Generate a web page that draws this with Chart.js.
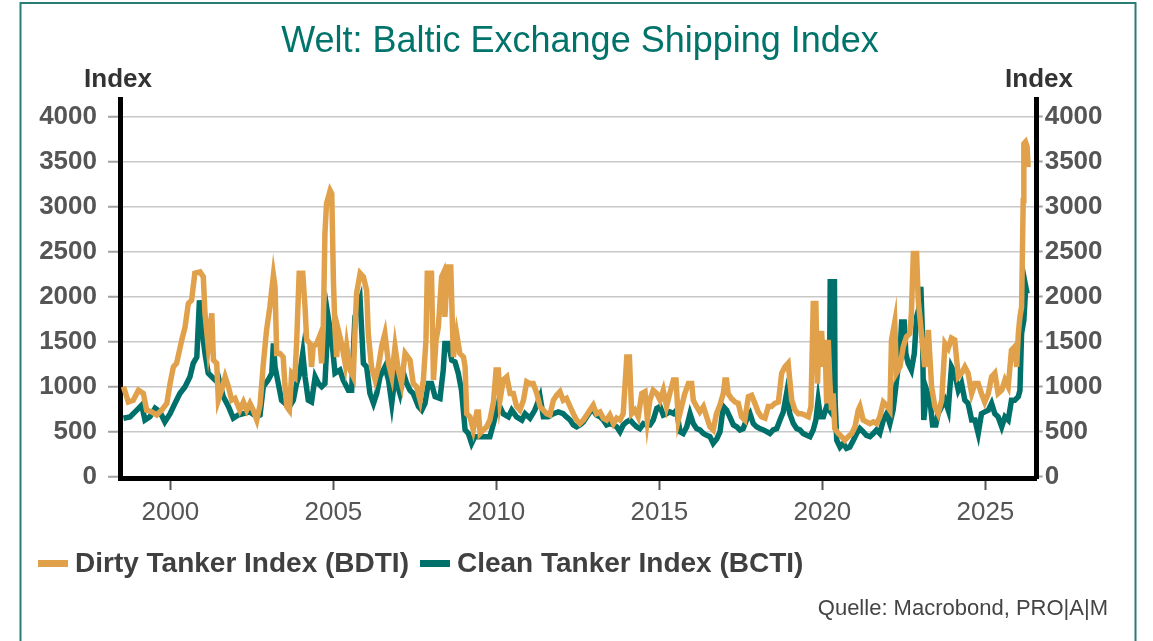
<!DOCTYPE html>
<html>
<head>
<meta charset="utf-8">
<script src="https://cdn.jsdelivr.net/npm/chart.js@4.4.1/dist/chart.umd.min.js"></script>
<style>
html,body{margin:0;padding:0;background:#fff;}
#wrap{position:relative;width:1153px;height:641px;}
</style>
</head>
<body>
<div id="wrap"><canvas id="c" width="1153" height="641"></canvas></div>
<script>
const chartTitle = 'Welt: Baltic Exchange Shipping Index';
const axisTitle = 'Index';
const sourceText = 'Quelle: Macrobond, PRO|A|M';
const seriesNames = ['Dirty Tanker Index (BDTI)', 'Clean Tanker Index (BCTI)'];
const seriesColors = ['#E1A14B', '#00716A'];
const yTickValues = [0, 500, 1000, 1500, 2000, 2500, 3000, 3500, 4000];
const xTickValues = [2000, 2005, 2010, 2015, 2020, 2025];
const xTickLabels = ['2000', '2005', '2010', '2015', '2020', '2025'];

const dirtyDates = [
1998.56,1998.71,1998.86,1999.02,1999.17,1999.27,1999.43,1999.58,1999.73,1999.89,
1999.99,2000.09,2000.19,2000.35,2000.45,2000.55,2000.65,2000.75,2000.91,2001.01,
2001.06,2001.16,2001.27,2001.32,2001.42,2001.47,2001.57,2001.68,2001.78,2001.88,
2001.98,2002.13,2002.24,2002.34,2002.44,2002.54,2002.65,2002.75,2002.85,2002.95,
2003.05,2003.16,2003.21,2003.26,2003.36,2003.46,2003.51,2003.57,2003.65,2003.72,
2003.82,2003.87,2003.95,2004.06,2004.13,2004.18,2004.28,2004.33,2004.38,2004.49,
2004.57,2004.64,2004.69,2004.74,2004.79,2004.90,2004.95,2005.00,2005.05,2005.10,
2005.15,2005.25,2005.36,2005.41,2005.51,2005.61,2005.66,2005.71,2005.82,2005.92,
2006.02,2006.07,2006.17,2006.28,2006.38,2006.48,2006.58,2006.69,2006.79,2006.89,
2006.99,2007.09,2007.20,2007.35,2007.45,2007.55,2007.66,2007.76,2007.84,2007.88,
2008.01,2008.07,2008.15,2008.22,2008.32,2008.37,2008.42,2008.50,2008.60,2008.68,
2008.78,2008.88,2008.99,2009.04,2009.09,2009.19,2009.29,2009.40,2009.45,2009.50,
2009.60,2009.70,2009.80,2009.91,2009.99,2010.06,2010.11,2010.21,2010.32,2010.42,
2010.52,2010.62,2010.72,2010.83,2010.93,2011.03,2011.13,2011.24,2011.34,2011.44,
2011.54,2011.64,2011.75,2011.85,2011.95,2012.05,2012.15,2012.26,2012.36,2012.46,
2012.56,2012.67,2012.77,2012.87,2012.97,2013.07,2013.18,2013.28,2013.38,2013.48,
2013.59,2013.69,2013.79,2013.89,2014.00,2014.08,2014.15,2014.25,2014.35,2014.46,
2014.56,2014.63,2014.71,2014.81,2014.92,2015.02,2015.12,2015.22,2015.32,2015.43,
2015.51,2015.58,2015.68,2015.78,2015.89,2015.99,2016.04,2016.14,2016.24,2016.35,
2016.45,2016.55,2016.65,2016.75,2016.86,2016.96,2017.01,2017.06,2017.11,2017.21,
2017.32,2017.42,2017.52,2017.62,2017.73,2017.83,2017.93,2018.03,2018.13,2018.24,
2018.34,2018.44,2018.54,2018.65,2018.75,2018.85,2018.95,2019.06,2019.16,2019.26,
2019.36,2019.46,2019.57,2019.65,2019.72,2019.80,2019.85,2019.90,2019.98,2020.03,
2020.08,2020.13,2020.18,2020.23,2020.28,2020.33,2020.38,2020.49,2020.59,2020.69,
2020.79,2020.90,2021.00,2021.10,2021.15,2021.25,2021.35,2021.46,2021.56,2021.66,
2021.76,2021.87,2021.97,2022.07,2022.12,2022.22,2022.27,2022.38,2022.48,2022.58,
2022.68,2022.73,2022.79,2022.89,2022.94,2023.04,2023.14,2023.25,2023.35,2023.45,
2023.55,2023.66,2023.76,2023.86,2023.96,2024.06,2024.17,2024.27,2024.37,2024.47,
2024.58,2024.68,2024.78,2024.88,2024.98,2025.09,2025.19,2025.29,2025.39,2025.50,
2025.60,2025.70,2025.80,2025.90,2025.96,2026.01,2026.06,2026.11,2026.16,2026.18,
2026.23,2026.28,2026.31
];
const dirtyValues = [
1000,830,850,960,925,740,720,685,740,815,
1035,1220,1260,1520,1665,1925,1960,2260,2275,2220,
1815,1445,1815,1295,1260,850,960,1110,1000,850,
870,740,830,740,815,740,630,800,1250,1630,
1885,2240,2110,1370,1370,1330,1035,780,740,1150,
1110,1480,2260,2260,1885,1520,1480,1220,1445,1480,
1555,1260,1665,2700,3035,3180,3145,2185,1630,1330,
1630,1480,1260,1445,1185,1110,1590,2035,2260,2220,
2070,1590,1220,1075,1220,1445,1590,1260,1110,1445,
1185,1035,1370,1295,1035,1000,850,1075,1520,2260,
2260,1075,1520,1665,2220,2260,1775,2330,2330,1330,
1590,1370,1330,1220,700,665,520,720,720,480,
520,555,630,830,1185,1185,850,1075,1110,925,
925,780,740,850,1055,1035,1035,925,780,740,
700,685,850,905,945,850,870,780,700,630,
590,630,685,740,795,700,720,650,630,685,
590,650,630,700,1330,1330,700,740,665,925,
945,630,850,960,925,850,960,780,925,1075,
1075,630,780,925,1035,1035,850,780,720,780,
665,555,520,700,800,925,1075,1075,925,870,
830,815,665,630,890,905,815,720,665,650,
780,780,815,830,1150,1220,1260,850,740,700,
700,685,665,780,1925,1925,1035,1590,1590,1220,
1520,815,1520,1035,740,925,535,480,445,405,
445,480,555,740,780,630,610,590,610,590,
665,830,795,740,1520,1720,1150,1220,1445,1555,
1590,1815,2480,2480,1960,1590,1220,1630,1000,780,
700,850,1480,1425,1540,1520,1110,1150,1220,1150,
925,1035,1035,925,830,925,1110,1150,925,960,
1075,1000,1405,1445,1220,1590,1775,1885,3070,3700,
3720,3665,3440
];

const cleanDates = [
1998.56,1998.76,1998.97,1999.12,1999.22,1999.37,1999.53,1999.68,1999.83,1999.99,
2000.14,2000.29,2000.45,2000.60,2000.70,2000.81,2000.89,2000.96,2001.06,2001.16,
2001.27,2001.37,2001.47,2001.62,2001.78,2001.93,2002.08,2002.24,2002.44,2002.65,
2002.75,2002.85,2003.00,2003.11,2003.16,2003.21,2003.31,2003.41,2003.52,2003.62,
2003.77,2003.87,2003.97,2004.06,2004.13,2004.23,2004.33,2004.44,2004.54,2004.64,
2004.74,2004.84,2004.95,2005.05,2005.20,2005.30,2005.46,2005.56,2005.66,2005.82,
2005.92,2006.02,2006.12,2006.23,2006.33,2006.43,2006.58,2006.69,2006.79,2006.89,
2007.04,2007.15,2007.25,2007.35,2007.45,2007.61,2007.71,2007.81,2007.91,2008.01,
2008.12,2008.27,2008.37,2008.42,2008.53,2008.63,2008.73,2008.83,2008.93,2009.04,
2009.14,2009.24,2009.34,2009.50,2009.65,2009.80,2009.91,2010.06,2010.21,2010.37,
2010.47,2010.62,2010.78,2010.88,2011.03,2011.18,2011.34,2011.44,2011.59,2011.75,
2011.90,2012.05,2012.15,2012.26,2012.36,2012.46,2012.56,2012.67,2012.77,2012.87,
2012.97,2013.07,2013.18,2013.28,2013.38,2013.48,2013.59,2013.69,2013.79,2013.89,
2014.00,2014.10,2014.20,2014.30,2014.40,2014.51,2014.61,2014.71,2014.81,2014.92,
2015.02,2015.12,2015.22,2015.32,2015.43,2015.53,2015.63,2015.73,2015.84,2015.94,
2016.04,2016.14,2016.24,2016.35,2016.45,2016.55,2016.65,2016.76,2016.86,2016.96,
2017.06,2017.16,2017.27,2017.37,2017.47,2017.57,2017.67,2017.78,2017.88,2017.98,
2018.08,2018.19,2018.29,2018.39,2018.49,2018.60,2018.70,2018.80,2018.90,2019.00,
2019.11,2019.21,2019.31,2019.41,2019.52,2019.62,2019.72,2019.80,2019.87,2019.94,
2020.03,2020.13,2020.21,2020.24,2020.37,2020.39,2020.44,2020.54,2020.64,2020.74,
2020.84,2020.95,2021.05,2021.15,2021.25,2021.35,2021.46,2021.56,2021.66,2021.76,
2021.87,2021.97,2022.07,2022.17,2022.27,2022.38,2022.43,2022.51,2022.56,2022.63,
2022.73,2022.82,2022.89,2022.97,2023.02,2023.07,2023.11,2023.20,2023.30,2023.38,
2023.48,2023.55,2023.66,2023.76,2023.86,2023.96,2024.06,2024.17,2024.27,2024.37,
2024.47,2024.58,2024.68,2024.78,2024.88,2024.98,2025.09,2025.19,2025.29,2025.39,
2025.50,2025.60,2025.70,2025.80,2025.90,2026.01,2026.06,2026.11,2026.18,2026.24,
2026.28
];
const cleanValues = [
650,665,740,795,630,665,760,720,610,700,
815,925,1000,1110,1260,1330,1960,1665,1370,1150,
1110,1075,1110,890,780,650,685,700,720,665,
685,1000,1075,1150,1480,1220,1035,850,815,760,
850,1035,1150,1370,1110,850,830,1110,1035,1000,
1035,1775,1520,1150,1185,1075,960,960,1775,1960,
1260,1220,925,815,925,1110,1220,1075,815,1110,
925,1150,1035,960,925,780,740,815,1035,1035,
890,870,1185,1480,1480,1295,1275,1150,960,520,
480,370,445,445,445,445,590,815,700,665,
740,665,630,700,650,740,890,665,665,700,
720,700,665,630,575,555,575,610,665,720,
740,685,665,630,575,590,575,555,500,575,
610,630,590,555,535,590,575,575,630,760,
780,685,700,720,700,740,500,480,555,700,
590,535,520,480,460,445,370,420,500,780,
740,665,575,555,520,535,630,700,590,555,
535,520,500,480,520,535,630,720,925,700,
590,535,520,480,460,445,520,630,850,665,
665,780,740,2165,2165,850,405,330,370,315,
330,405,480,535,500,460,445,480,520,480,
630,700,590,740,1055,1370,1720,1720,1370,1260,
1185,1370,1775,1885,2110,1590,630,960,850,575,
575,700,780,850,740,1220,1150,960,1035,850,
815,630,630,480,700,720,740,815,700,665,
555,665,630,850,850,890,960,1590,1740,2110,
2035
];

const FONT = '"Liberation Sans", Arial, Helvetica, sans-serif';

function toPoints(xs, ys) { return xs.map((x, i) => ({ x: x, y: ys[i] })); }

const decorPlugin = {
  id: 'decor',
  afterDraw(chart) {
    const ctx = chart.ctx;
    ctx.save();
    // frame
    ctx.strokeStyle = '#2a7d74';
    ctx.lineWidth = 2;
    ctx.strokeRect(20.5, 3, 1115, 700);
    // title
    ctx.fillStyle = '#00736A';
    ctx.font = '36px ' + FONT;
    ctx.textAlign = 'center';
    ctx.textBaseline = 'alphabetic';
    ctx.fillText(chartTitle, 580, 52);
    // axis titles
    ctx.fillStyle = '#333333';
    ctx.font = 'bold 26px ' + FONT;
    ctx.fillText(axisTitle, 118, 87);
    ctx.fillText(axisTitle, 1039, 87);
    // legend
    ctx.font = 'bold 28px ' + FONT;
    ctx.textAlign = 'left';
    let x = 38;
    chart.data.datasets.forEach((ds) => {
      ctx.fillStyle = ds.borderColor;
      ctx.fillRect(x, 560, 30, 7);
      ctx.fillStyle = '#404040';
      ctx.fillText(ds.label, x + 37, 572);
      x = x + 37 + ctx.measureText(ds.label).width + 11;
    });
    // source
    ctx.font = '22px ' + FONT;
    ctx.fillStyle = '#444444';
    ctx.textAlign = 'right';
    ctx.fillText(sourceText, 1108, 615);
    ctx.restore();
  }
};

const yMin = -14.4, yMax = 4193.6;
const yLabel = (v) => String(v);

const chart = new Chart(document.getElementById('c'), {
  type: 'line',
  data: {
    datasets: [
      { label: seriesNames[0], data: toPoints(dirtyDates, dirtyValues), borderColor: seriesColors[0], backgroundColor: seriesColors[0], borderWidth: 5.5, pointRadius: 0, tension: 0, yAxisID: 'y' },
      { label: seriesNames[1], data: toPoints(cleanDates, cleanValues), borderColor: seriesColors[1], backgroundColor: seriesColors[1], borderWidth: 5.5, pointRadius: 0, tension: 0, yAxisID: 'y' }
    ]
  },
  options: {
    responsive: false,
    animation: false,
    devicePixelRatio: 1,
    layout: { padding: { top: 99.3, left: 0, right: 0, bottom: 0 } },
    plugins: { legend: { display: false }, title: { display: false }, tooltip: { enabled: false } },
    scales: {
      x: {
        type: 'linear',
        position: 'bottom',
        min: 1998.454,
        max: 2026.574,
        afterBuildTicks: (s) => { s.ticks = xTickValues.map(v => ({ value: v })); },
        afterFit: (s) => { s.height = 163; },
        ticks: {
          autoSkip: false, maxRotation: 0,
          callback: (v) => xTickLabels[xTickValues.indexOf(v)],
          font: { family: FONT, size: 26 },
          color: '#555555',
          padding: 7
        },
        grid: { drawOnChartArea: false, drawTicks: true, tickLength: 12, tickColor: '#555555', tickWidth: 2 },
        border: { display: true, color: '#000000', width: 5 }
      },
      y: {
        position: 'left',
        min: yMin, max: yMax,
        afterBuildTicks: (s) => { s.ticks = yTickValues.map(v => ({ value: v })); },
        afterFit: (s) => { s.width = 120; },
        ticks: { font: { family: FONT, size: 26, weight: 'bold' }, color: '#555555', padding: 11, callback: yLabel },
        grid: { color: '#c8c8c8', lineWidth: 1.5, drawTicks: true, tickLength: 12, tickColor: '#a0a0a0', tickWidth: 2 },
        border: { display: true, color: '#000000', width: 5 }
      },
      y2: {
        position: 'right',
        min: yMin, max: yMax,
        afterBuildTicks: (s) => { s.ticks = yTickValues.map(v => ({ value: v })); },
        afterFit: (s) => { s.width = 116.3; },
        ticks: { font: { family: FONT, size: 26, weight: 'bold' }, color: '#555555', padding: 2, callback: yLabel },
        grid: { drawOnChartArea: false, drawTicks: true, tickLength: 6, tickColor: '#a0a0a0', tickWidth: 2 },
        border: { display: true, color: '#000000', width: 5 }
      }
    }
  },
  plugins: [decorPlugin]
});
</script>
</body>
</html>
